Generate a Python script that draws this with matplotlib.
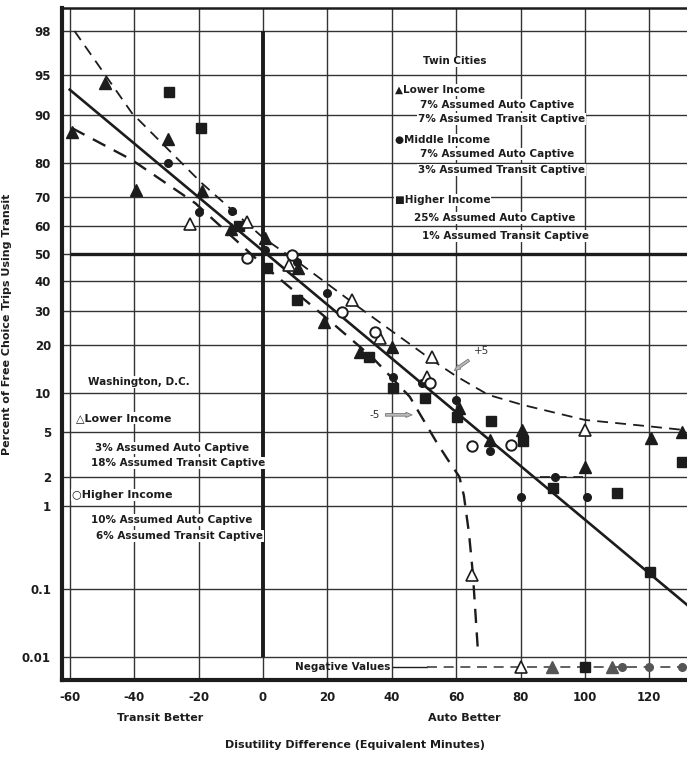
"""Transit choice vs disutility difference on a normal-probability axis (scan redraw)."""
from statistics import NormalDist

import numpy as np
import matplotlib
matplotlib.use("Agg")
import matplotlib.pyplot as plt

# ---- data --------------------------------------------------------------------
x_ticks = [-60, -40, -20, 0, 20, 40, 60, 80, 100, 120]
x_labels = ["-60", "-40", "-20", "0", "20", "40", "60", "80", "100", "120"]
y_ticks = [0.01, 0.1, 1, 2, 5, 10, 20, 30, 40, 50, 60, 70, 80, 90, 95, 98]
y_labels = ["0.01", "0.1", "1", "2", "5", "10", "20", "30", "40", "50",
            "60", "70", "80", "90", "95", "98"]

# Twin Cities
tc_low_x = [-59.3, -49, -39.4, -29.5, -19, -10, 0.5, 11, 19, 30, 40, 61, 70.5, 80.4, 100, 120.5, 130]
tc_low_y = [87, 94.2, 72.2, 85.5, 72, 59, 56, 45, 26.5, 18.4, 19.5, 7.8, 4.3, 5.2, 2.5, 4.5, 5.0]
tc_mid_x = [-29.5, -19.9, -9.6, 0.5, 10.5, 20, 40.4, 49.5, 60, 70.5, 80, 90.7, 100.6]
tc_mid_y = [80, 65, 65.5, 51.5, 47, 36, 12.9, 11.7, 8.9, 3.5, 1.25, 2.0, 1.25]
tc_high_x = [-29.2, -19.3, -7.5, 1.2, 10.5, 33, 40.4, 50.3, 60.2, 70.8, 80.7, 90, 110, 120.2, 130]
tc_high_y = [93.2, 87.7, 60, 45, 33.6, 17, 10.9, 9.2, 6.7, 6.2, 4.2, 1.55, 1.38, 0.17, 2.75]
# Washington, D.C.
dc_low_x = [-22.7, -5, 8, 27.6, 36.3, 51, 52.5, 100, 65]
dc_low_y = [61, 61.5, 46, 33.6, 22, 12.9, 17.1, 5.2, 0.155]
dc_high_x = [-5, 9, 24.5, 34.8, 52, 65, 77]
dc_high_y = [48.5, 49.6, 29.7, 23.6, 11.7, 3.8, 3.9]

# points plotted on the "Negative Values" row
NEG = 0.007
neg_dc_low_x = [80]
neg_tc_low_x = [89.7, 108.5]
neg_tc_high_x = [100]
neg_tc_mid_x = [111.5, 120, 130]

# fitted curves
fit_x = [-60, 131.7]
fit_y = [93.5, 0.061]
plus5_x = [-58.5, -40.7, -19, 0, 11.5, 30, 52.5, 60, 70, 80.7, 100, 120, 131.7]
plus5_y = [98, 90.3, 74.3, 56, 46.5, 31, 16.4, 13, 9.7, 8.2, 6.3, 5.6, 5.2]
minus5_x = [-59.3, -40.7, -21, 0, 20, 34, 45.6, 54, 57.5, 61, 62.4, 64.0, 65.2, 66.8]
minus5_y = [87.7, 80.7, 68, 46, 27.5, 17, 9.4, 4.1, 2.87, 2, 1.3, 0.5, 0.16, 0.012]
seg2_x = [86, 99.4]
seg2_y = [2, 2]
negline_solid_x = [40.4, 50.9]
negline_dash_x = [50.9, 131.7]

# ---- probability (normal) scale ------------------------------------------------
ND = NormalDist()
_ppf = np.vectorize(ND.inv_cdf, otypes=[float])
_cdf = np.vectorize(ND.cdf, otypes=[float])


def fwd(p):
    p = np.clip(np.asarray(p, dtype=float) / 100.0, 1e-12, 1 - 1e-12)
    return _ppf(p)


def inv(z):
    return _cdf(np.asarray(z, dtype=float)) * 100.0


FONT = ["Liberation Sans Narrow", "DejaVu Sans"]
INK = "#1c1c1c"


def main():
    plt.rcParams["font.family"] = FONT
    fig = plt.figure(figsize=(6.87, 7.62), dpi=100)
    ax = fig.add_axes([62 / 687, 82 / 762, 625 / 687, 672 / 762])
    ax.set_yscale("function", functions=(fwd, inv))
    ax.set_xlim(-62.4, 131.7)
    ax.set_ylim(0.0043, 98.83)

    ax.set_xticks(x_ticks, x_labels)
    ax.set_yticks(y_ticks, y_labels)
    ax.minorticks_off()
    ax.tick_params(length=0, labelsize=8.5, colors=INK, pad=8)
    for t in ax.get_xticklabels() + ax.get_yticklabels():
        t.set_fontweight("bold")
    ax.grid(True, color="#333333", lw=1.0)
    ax.set_axisbelow(True)
    for s in ("left", "bottom"):
        ax.spines[s].set_linewidth(3); ax.spines[s].set_color(INK)
    ax.spines["top"].set_linewidth(1.8); ax.spines["top"].set_color(INK)
    ax.spines["right"].set_visible(False)

    ax.hlines(50, -60, 131.7, color=INK, lw=2.4, zorder=1.5)
    ax.vlines(0, 0.01, 98, color=INK, lw=2.8, zorder=1.5)

    # curves
    ax.plot(fit_x, fit_y, color=INK, lw=1.9, zorder=3)
    ax.plot(plus5_x, plus5_y, color=INK, lw=1.3, dashes=(6, 4), zorder=3)
    ax.plot(minus5_x, minus5_y, color=INK, lw=1.7, dashes=(6, 4), zorder=3)
    ax.plot(seg2_x, seg2_y, color=INK, lw=1.2, dashes=(6, 4), zorder=3)
    ax.plot(negline_solid_x, [NEG, NEG], color=INK, lw=1.0, zorder=3)
    ax.plot(negline_dash_x, [NEG, NEG], color="#444444", lw=1.2, dashes=(6, 4), zorder=3)

    # points
    kw = dict(ls="none", zorder=4)
    ax.plot(tc_low_x, tc_low_y, marker="^", ms=8, color=INK, **kw)
    ax.plot(tc_mid_x, tc_mid_y, marker="o", ms=5.5, color=INK, **kw)
    ax.plot(tc_high_x, tc_high_y, marker="s", ms=6.5, color=INK, **kw)
    ax.plot(dc_low_x, dc_low_y, marker="^", ms=8, mfc="white", mec=INK, mew=1.2, **kw)
    ax.plot(dc_high_x, dc_high_y, marker="o", ms=7.5, mfc="white", mec=INK, mew=1.4, **kw)
    ax.plot(neg_dc_low_x, [NEG] * len(neg_dc_low_x), marker="^", ms=8, mfc="white", mec=INK, mew=1.2, **kw)
    ax.plot(neg_tc_low_x, [NEG] * len(neg_tc_low_x), marker="^", ms=8, color="#555555", **kw)
    ax.plot(neg_tc_high_x, [NEG] * len(neg_tc_high_x), marker="s", ms=7, color=INK, **kw)
    ax.plot(neg_tc_mid_x, [NEG] * len(neg_tc_mid_x), marker="o", ms=5.5, color="#555555", **kw)

    # annotations
    tk = dict(fontsize=7.5, fontweight="bold", color=INK, va="center", ha="left", zorder=5,
              bbox=dict(facecolor="white", edgecolor="none", pad=0.6))
    ax.text(59.6, 96.2, "Twin Cities", **{**tk, "ha": "center"})
    ax.text(41.0, 93.5, "▲Lower Income", **tk)
    ax.text(48.8, 91.5, "7% Assumed Auto Captive", **tk)
    ax.text(48.1, 89.3, "7% Assumed Transit Captive", **tk)
    ax.text(41.0, 85.3, "●Middle Income", **tk)
    ax.text(48.8, 82.2, "7% Assumed Auto Captive", **tk)
    ax.text(48.1, 78.1, "3% Assumed Transit Captive", **tk)
    ax.text(41.0, 69.1, "■Higher Income", **tk)
    ax.text(46.9, 63.0, "25% Assumed Auto Captive", **tk)
    ax.text(49.4, 56.6, "1% Assumed Transit Captive", **tk)

    ax.text(-54.3, 11.9, "Washington, D.C.", **tk)
    ax.text(-58.0, 6.5, "△Lower Income", **{**tk, "fontsize": 8})
    ax.text(-52.2, 3.7, "3% Assumed Auto Captive", **tk)
    ax.text(-53.4, 2.7, "18% Assumed Transit Captive", **tk)
    ax.text(-59.3, 1.32, "○Higher Income", **{**tk, "fontsize": 8})
    ax.text(-53.4, 0.71, "10% Assumed Auto Captive", **tk)
    ax.text(-51.9, 0.47, "6% Assumed Transit Captive", **tk)

    ax.text(39.5, NEG, "Negative Values", fontsize=7.5, fontweight="bold", color=INK,
            ha="right", va="center", zorder=5)

    arr = dict(arrowstyle="simple,head_width=0.5,head_length=0.6,tail_width=0.25",
               fc="#bbbbbb", ec="#777777", lw=0.6)
    ax.annotate("-5", xy=(47.2, 6.9), xytext=(36.3, 6.9), fontsize=7.5, color="#333333",
                ha="right", va="center", arrowprops=arr, zorder=5)
    ax.annotate("+5", xy=(58.7, 13.8), xytext=(65.5, 18.5), fontsize=7.5, color="#333333",
                ha="left", va="center", arrowprops=arr, zorder=5)

    ax.set_ylabel("Percent of Free Choice Trips Using Transit", fontsize=8, fontweight="bold", color=INK)
    ax.yaxis.set_label_coords(-0.08, 0.53)
    fig.text(160 / 687, 1 - 718 / 762, "Transit Better", fontsize=8, fontweight="bold",
             color=INK, ha="center", va="center")
    fig.text(464 / 687, 1 - 718 / 762, "Auto Better", fontsize=8, fontweight="bold",
             color=INK, ha="center", va="center")
    fig.text(355 / 687, 1 - 745 / 762, "Disutility Difference (Equivalent Minutes)", fontsize=8,
             fontweight="bold", color=INK, ha="center", va="center")

    fig.savefig("out.png", dpi=100)
    plt.close(fig)


if __name__ == "__main__":
    main()
